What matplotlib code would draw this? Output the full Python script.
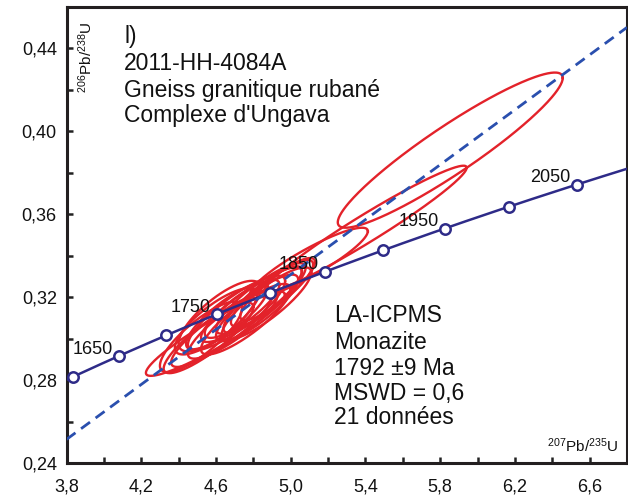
import numpy as np
import matplotlib
matplotlib.use("Agg")
import matplotlib.pyplot as plt

plt.rcParams['font.family'] = ['Liberation Sans', 'DejaVu Sans']
plt.rcParams['mathtext.fontset'] = 'custom'
plt.rcParams['mathtext.rm'] = 'Liberation Sans'
plt.rcParams['mathtext.it'] = 'Liberation Sans:italic'
plt.rcParams['mathtext.bf'] = 'Liberation Sans:bold'

# ---- data ----
LAMBDA_238 = 1.55125e-10
LAMBDA_235 = 9.8485e-10
marker_ages = [1600, 1650, 1700, 1750, 1800, 1850, 1900, 1950, 2000, 2050]
label_ages = [1650, 1750, 1850, 1950, 2050]
intercept_upper = 1792  # Ma
intercept_lower = 0     # Ma

# ellipses: 207Pb/235U centre, half-extent, 206Pb/238U centre, half-extent, rho
ell_x = [5.854, 5.402, 5.097, 4.597,
         4.52, 4.56, 4.60, 4.63, 4.66, 4.69, 4.71, 4.74, 4.76, 4.79,
         4.82, 4.84, 4.87, 4.90, 4.93, 4.62, 4.85]
ell_sx = [0.602, 0.540, 0.316, 0.372,
          0.22, 0.24, 0.22, 0.27, 0.22, 0.24, 0.26, 0.20, 0.24, 0.27,
          0.22, 0.24, 0.24, 0.22, 0.20, 0.22, 0.21]
ell_y = [0.3910, 0.3531, 0.3367, 0.3025,
         0.3010, 0.3005, 0.3085, 0.3045, 0.3110, 0.3070, 0.3125, 0.3145, 0.3095, 0.3165,
         0.3150, 0.3195, 0.3170, 0.3220, 0.3240, 0.3110, 0.3190]
ell_sy = [0.0374, 0.0304, 0.0169, 0.0203,
          0.0170, 0.0170, 0.0160, 0.0180, 0.0160, 0.0165, 0.0180, 0.0140, 0.0170, 0.0180,
          0.0160, 0.0170, 0.0175, 0.0160, 0.0150, 0.0170, 0.0160]
ell_rho = [0.930, 0.968, 0.900, 0.930,
           0.82, 0.87, 0.80, 0.88, 0.84, 0.86, 0.85, 0.84, 0.85, 0.88,
           0.85, 0.87, 0.86, 0.87, 0.87, 0.78, 0.87]

x_ticks = [3.8, 4.2, 4.6, 5.0, 5.4, 5.8, 6.2, 6.6]
y_ticks = [0.24, 0.28, 0.32, 0.36, 0.40, 0.44]

title_lines = ["l)", "2011-HH-4084A", "Gneiss granitique rubané", "Complexe d'Ungava"]
result_lines = ["LA-ICPMS", "Monazite", "1792 ±9 Ma", "MSWD = 0,6", "21 données"]


def r206(t_ma):
    return np.exp(LAMBDA_238 * np.asarray(t_ma) * 1e6) - 1


def r207(t_ma):
    return np.exp(LAMBDA_235 * np.asarray(t_ma) * 1e6) - 1


W, H = 628, 498
fig = plt.figure(figsize=(W / 100, H / 100), dpi=100)
ax = fig.add_axes([66.5 / W, 1 - 463.4 / H, (627 - 66.5) / W, (463.4 - 7) / H])
ax.set_xlim(3.8, 6.8)
ax.set_ylim(0.24, 0.46)

red = '#E3222A'
navy = '#2E2B88'
blue = '#2A4FAE'

# ellipses
tt = np.linspace(0, 2 * np.pi, 300)
for x0, sx, y0, sy, rho in zip(ell_x, ell_sx, ell_y, ell_sy, ell_rho):
    ex = x0 + sx * np.cos(tt)
    ey = y0 + sy * (rho * np.cos(tt) + np.sqrt(1 - rho ** 2) * np.sin(tt))
    ax.plot(ex, ey, color=red, lw=1.7, zorder=2)

# concordia
tc = np.linspace(1550, 2150, 400)
ax.plot(r207(tc), r206(tc), color=navy, lw=1.8, zorder=3)

# discordia
x_lo, y_lo = r207(intercept_lower), r206(intercept_lower)
x_up, y_up = r207(intercept_upper), r206(intercept_upper)
xd = np.array([3.8, 6.8])
yd = y_lo + (y_up - y_lo) / (x_up - x_lo) * (xd - x_lo)
ax.plot(xd, yd, color=blue, lw=2.0, ls=(0, (4, 2.5)), zorder=4)

# age markers
ax.plot(r207(marker_ages), r206(marker_ages), 'o', ms=7.5, mfc='white',
        mec=navy, mew=1.8, zorder=5, clip_on=False)
for a in label_ages:
    ax.annotate(str(a), (r207(a), r206(a)), xytext=(-6, 7), textcoords='offset pixels',
                ha='right', va='center', fontsize=13, color='#111111', zorder=6)

# texts
for i, s in enumerate(title_lines):
    yb = [36, 62.5, 89, 114][i] + 7.5
    ax.text(124 / W, 1 - yb / H, s, fontsize=16.5, color='#111111', va='baseline',
            ha='left', transform=fig.transFigure)
for i, s in enumerate(result_lines):
    yb = [315, 341, 367, 392, 416][i] + 7.5
    ax.text(334 / W, 1 - yb / H, s, fontsize=16.5, color='#111111', va='baseline',
            ha='left', transform=fig.transFigure)

ax.text(86 / W, 1 - 22 / H, r'$^{206}$Pb/$^{238}$U', rotation=90, fontsize=11,
        ha='center', va='top', transform=fig.transFigure, color='#111111')
ax.text(618 / W, 1 - 452 / H, r'$^{207}$Pb/$^{235}$U', fontsize=11,
        ha='right', va='baseline', transform=fig.transFigure, color='#111111')

# axes styling
ax.set_xticks(x_ticks)
ax.set_xticklabels([f"{v:.1f}".replace('.', ',') for v in x_ticks])
ax.set_yticks(y_ticks)
ax.set_yticklabels([f"{v:.2f}".replace('.', ',') for v in y_ticks])
ax.set_xticks(np.arange(4.0, 6.81, 0.4), minor=True)
ax.set_yticks(np.arange(0.26, 0.461, 0.04), minor=True)
ax.tick_params(which='both', direction='in', length=4, width=1.8, color='#222222',
               labelsize=13, labelcolor='#111111')
ax.tick_params(axis='x', which='major', pad=11)
ax.tick_params(axis='y', which='major', pad=7)
for sp in ax.spines.values():
    sp.set_linewidth(2.2)
    sp.set_color('#231F20')

fig.savefig('out.png', dpi=100)
